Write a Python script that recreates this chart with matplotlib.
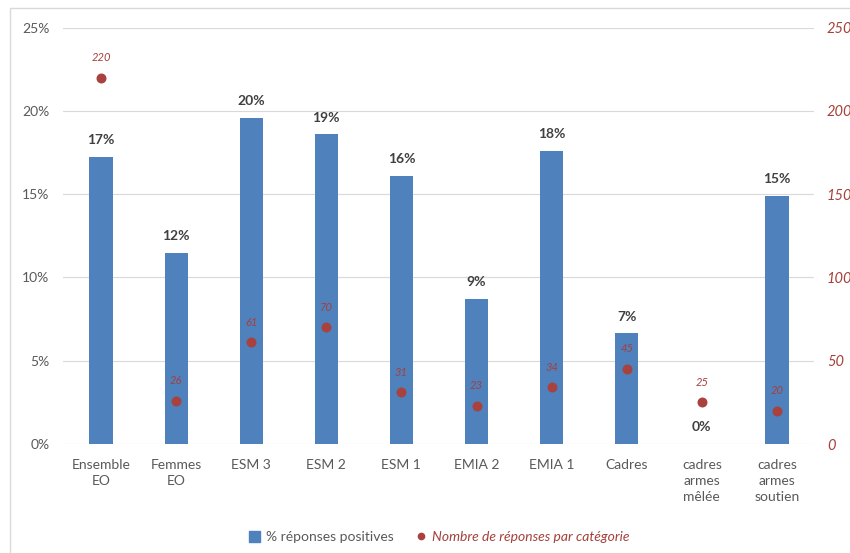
import matplotlib
matplotlib.use("Agg")
import matplotlib.pyplot as plt
from matplotlib.patches import Rectangle
from matplotlib.lines import Line2D
from matplotlib.ticker import FuncFormatter, MultipleLocator

plt.rcParams['font.family'] = ['Lato', 'DejaVu Sans']

categories = ["Ensemble\nEO", "Femmes\nEO", "ESM 3", "ESM 2", "ESM 1",
              "EMIA 2", "EMIA 1", "Cadres", "cadres\narmes\nmêlée",
              "cadres\narmes\nsoutien"]
pct_positive = [0.1725, 0.115, 0.196, 0.186, 0.161, 0.087, 0.176, 0.0665, 0.0, 0.149]
n_responses = [220, 26, 61, 70, 31, 23, 34, 45, 25, 20]

bar_color = "#4F81BD"
dot_color = "#A9423E"
red_text = "#A5403B"
gray_text = "#595959"
grid_color = "#D9D9D9"

fig = plt.figure(figsize=(8.5, 5.53), dpi=100)
ax = fig.add_axes([0.0747, 0.197, 0.8835, 0.753])
ax2 = ax.twinx()

x = list(range(len(categories)))
ax.bar(x, pct_positive, width=0.31, color=bar_color, zorder=2,
       label="% réponses positives")
ax.set_xlim(-0.5, len(categories) - 0.5)
ax.set_ylim(0, 0.25)
ax.yaxis.set_major_locator(MultipleLocator(0.05))
ax.yaxis.set_major_formatter(FuncFormatter(lambda v, _: f"{v*100:.0f}%"))
ax.grid(axis='y', color=grid_color, linewidth=0.8, zorder=0)
ax.set_axisbelow(True)
for s in ax.spines.values():
    s.set_visible(False)
for s in ax2.spines.values():
    s.set_visible(False)
ax.tick_params(axis='y', length=0, pad=10, labelsize=10, labelcolor=gray_text)
ax.tick_params(axis='x', length=0, pad=11, labelsize=10, labelcolor=gray_text)
ax.set_xticks(x)
ax.set_xticklabels(categories, linespacing=1.4, va='top')

for xi, v in zip(x, pct_positive):
    ax.annotate(f"{v*100:.0f}%", (xi, v), xytext=(0, 12), textcoords='offset points',
                ha='center', va='center', fontsize=10, fontweight='bold',
                color="#404040")

ax2.scatter(x, n_responses, s=38, color=dot_color, zorder=3,
            label="Nombre de réponses par catégorie")
ax2.set_ylim(0, 250)
ax2.yaxis.set_major_locator(MultipleLocator(50))
ax2.tick_params(axis='y', length=0, pad=9, labelsize=10.5, labelcolor=red_text)
for lbl in ax2.get_yticklabels():
    lbl.set_fontstyle('italic')
for xi, v in zip(x, n_responses):
    ax2.annotate(f"{v}", (xi, v), xytext=(0, 14.5), textcoords='offset points',
                 ha='center', va='center', fontsize=8, fontstyle='italic',
                 color=red_text)

handles = [
    Rectangle((0, 0), 1, 1, color=bar_color),
    Line2D([], [], marker='o', linestyle='none', color=dot_color, markersize=4.5),
]
leg = fig.legend(handles, ["% réponses positives", "Nombre de réponses par catégorie"],
                 loc='center', bbox_to_anchor=(0.517, 0.029), ncol=2, frameon=False,
                 fontsize=10, handlelength=0.8, handleheight=0.8, handletextpad=0.4,
                 columnspacing=1.6)
texts = leg.get_texts()
texts[0].set_color(gray_text)
texts[1].set_color(red_text)
texts[1].set_fontstyle('italic')

# chart frame
fig.patches.append(Rectangle((10 / 850, -0.1), 1.0, 1 - 8 / 553 + 0.1,
                             transform=fig.transFigure, fill=False,
                             edgecolor="#D9D9D9", linewidth=1.0))

fig.savefig("out.png", dpi=100)
